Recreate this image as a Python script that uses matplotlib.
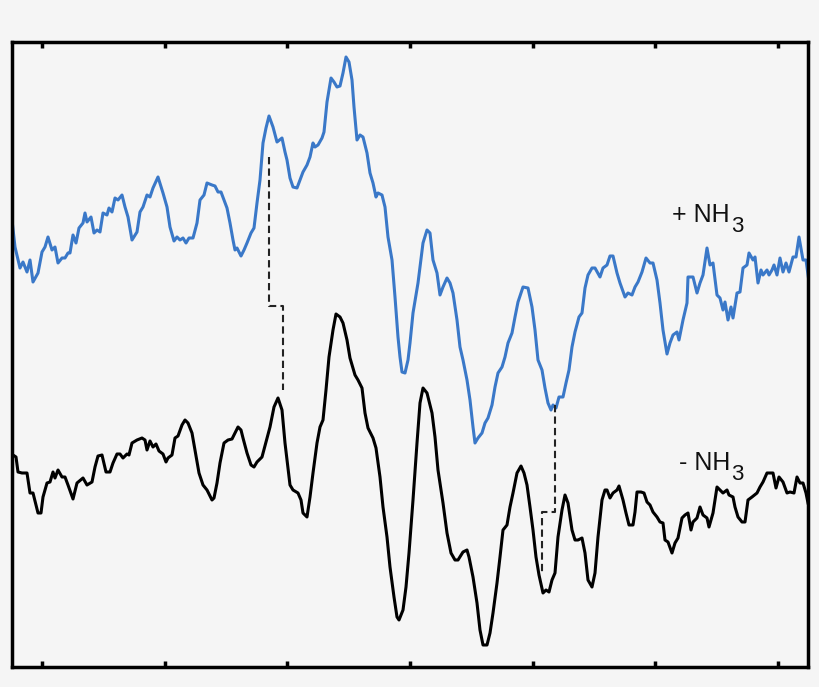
import numpy as np
import matplotlib
matplotlib.use("Agg")
import matplotlib.pyplot as plt

plt.rcParams['font.family'] = ['Liberation Sans', 'DejaVu Sans']

# signal values are read downward (screen-like scale), so the y axis is inverted below
field_plus = [12, 15, 20, 23, 25, 27, 30, 33, 38, 42, 45, 48, 52, 55, 58, 62, 65, 68, 70, 73,
              76, 79, 83, 85, 87, 91, 94, 97, 100, 103, 107, 109, 112, 115, 118, 122, 125, 128, 132, 137,
              140, 143, 147, 150, 153, 158, 163, 167, 170, 174, 177, 180, 183, 186, 189, 193, 197, 200, 204, 207,
              212, 215, 218, 221, 224, 227, 230, 233, 235, 237, 241, 244, 247, 251, 254, 257, 260, 263, 266, 269,
              273, 277, 282, 285, 287, 290, 293, 297, 300, 303, 307, 310, 313, 315, 318, 322, 324, 327, 331, 334,
              337, 340, 343, 346, 349, 352, 354, 357, 360, 363, 367, 370, 373, 376, 378, 382, 385, 388, 392, 395,
              398, 400, 402, 405, 408, 410, 413, 418, 423, 427, 430, 433, 437, 440, 443, 447, 450, 453, 457, 460,
              463, 467, 470, 473, 475, 478, 482, 485, 488, 492, 495, 498, 502, 505, 508, 512, 515, 518, 523, 528,
              532, 535, 538, 542, 545, 548, 551, 553, 556, 559, 563, 566, 569, 572, 575, 579, 582, 585, 588, 592,
              595, 600, 603, 607, 610, 613, 617, 620, 625, 628, 632, 635, 638, 642, 646, 650, 653, 657, 660, 663,
              667, 670, 673, 677, 679, 683, 687, 688, 693, 697, 700, 703, 707, 710, 713, 717, 720, 723, 725, 728,
              731, 733, 737, 740, 743, 747, 749, 753, 755, 758, 761, 763, 767, 769, 772, 774, 777, 780, 783, 786,
              789, 793, 796, 799, 803, 806, 809]
signal_plus = [220, 247, 268, 262, 267, 272, 260, 282, 273, 252, 247, 237, 250, 247, 263, 258, 258, 253, 253, 235,
               243, 228, 223, 213, 222, 217, 233, 230, 232, 213, 215, 208, 212, 198, 200, 195, 207, 217, 240, 232,
               212, 207, 195, 197, 188, 177, 193, 207, 227, 241, 237, 240, 238, 243, 238, 238, 223, 200, 195, 183,
               185, 186, 192, 192, 200, 208, 223, 240, 250, 248, 256, 250, 243, 233, 228, 203, 180, 143, 128, 116,
               127, 142, 138, 152, 160, 178, 187, 188, 180, 172, 165, 157, 143, 147, 145, 138, 132, 102, 78, 82,
               87, 86, 73, 57, 62, 80, 107, 140, 135, 137, 153, 173, 183, 197, 193, 195, 207, 237, 260, 297,
               337, 357, 372, 373, 360, 343, 313, 283, 243, 230, 233, 260, 273, 295, 287, 278, 283, 293, 320, 347,
               360, 380, 400, 427, 443, 438, 433, 423, 418, 405, 387, 373, 367, 357, 343, 333, 317, 302, 287, 288,
               307, 330, 360, 370, 388, 403, 410, 405, 408, 397, 397, 383, 370, 347, 332, 317, 313, 288, 275, 268,
               268, 277, 268, 265, 256, 256, 273, 283, 297, 293, 295, 287, 282, 272, 258, 263, 263, 280, 303, 330,
               354, 343, 335, 332, 340, 320, 303, 277, 277, 293, 283, 275, 248, 265, 263, 295, 298, 310, 302, 320,
               307, 318, 293, 292, 268, 265, 253, 260, 257, 283, 270, 275, 270, 275, 270, 265, 275, 258, 272, 263,
               272, 257, 257, 237, 260, 260, 282]

field_minus = [13, 16, 18, 22, 27, 30, 33, 38, 41, 43, 47, 50, 53, 55, 58, 62, 65, 68, 73, 77,
               83, 87, 92, 95, 98, 102, 106, 110, 113, 117, 120, 123, 127, 129, 132, 137, 142, 145, 147, 150,
               153, 156, 159, 163, 166, 168, 172, 175, 178, 182, 185, 188, 192, 195, 199, 203, 207, 212, 214, 217,
               220, 224, 228, 232, 235, 238, 241, 243, 247, 251, 254, 257, 262, 266, 270, 274, 278, 282, 285, 290,
               293, 298, 301, 303, 307, 310, 313, 317, 320, 323, 326, 329, 333, 336, 340, 343, 347, 350, 355, 358,
               362, 365, 368, 373, 376, 380, 383, 387, 390, 394, 397, 399, 403, 406, 409, 413, 417, 420, 423, 427,
               432, 435, 438, 443, 447, 451, 455, 458, 463, 467, 469, 473, 477, 480, 483, 487, 490, 493, 497, 500,
               503, 507, 510, 513, 517, 521, 524, 527, 530, 533, 536, 539, 543, 546, 549, 552, 555, 558, 562, 565,
               568, 572, 575, 578, 582, 585, 588, 592, 595, 598, 602, 605, 607, 610, 613, 617, 619, 623, 626, 629,
               633, 635, 637, 641, 644, 647, 650, 653, 657, 660, 663, 665, 668, 672, 675, 678, 682, 685, 688, 691,
               693, 697, 700, 703, 707, 709, 713, 717, 720, 723, 727, 729, 733, 735, 738, 742, 745, 748, 752, 757,
               760, 763, 767, 771, 773, 776, 779, 783, 787, 790, 794, 797, 800, 803, 806, 808]
signal_minus = [455, 457, 472, 473, 473, 493, 493, 513, 513, 497, 483, 482, 472, 478, 470, 477, 477, 485, 499, 483,
                478, 485, 482, 467, 456, 455, 472, 472, 463, 454, 454, 458, 454, 455, 443, 440, 438, 440, 450, 441,
                447, 444, 451, 454, 462, 458, 455, 438, 436, 425, 420, 423, 433, 450, 473, 485, 490, 500, 498, 483,
                463, 443, 440, 439, 433, 427, 430, 438, 453, 465, 467, 462, 457, 442, 427, 407, 398, 410, 443, 485,
                490, 493, 500, 513, 517, 497, 473, 443, 427, 420, 390, 357, 330, 314, 317, 323, 340, 358, 375, 380,
                388, 413, 428, 438, 448, 477, 507, 537, 567, 597, 617, 620, 610, 587, 553, 500, 443, 403, 388, 393,
                413, 437, 470, 503, 533, 553, 560, 560, 552, 550, 557, 577, 603, 630, 645, 645, 633, 613, 583, 557,
                530, 525, 507, 493, 473, 466, 473, 485, 507, 530, 557, 575, 593, 590, 592, 580, 573, 537, 510, 495,
                503, 530, 540, 540, 538, 553, 580, 587, 573, 537, 500, 490, 490, 498, 493, 490, 486, 500, 513, 525,
                525, 512, 492, 492, 493, 502, 505, 512, 517, 522, 523, 540, 542, 553, 543, 538, 518, 515, 513, 530,
                522, 518, 507, 515, 518, 527, 513, 487, 490, 493, 490, 495, 497, 507, 517, 522, 522, 500, 497, 493,
                487, 482, 473, 473, 473, 488, 477, 482, 493, 492, 493, 477, 483, 483, 493, 503]

# dashed guides linking matching peaks of the two traces
guide_left_x = [269, 269, 283, 283]
guide_left_y = [157, 306, 306, 390]
guide_right_x = [555, 555, 542, 542]
guide_right_y = [405, 512, 512, 572]

tick_positions = [42, 164.7, 287.3, 410, 532.7, 655.3, 778]

fig = plt.figure(figsize=(8.2, 6.87), dpi=100, facecolor='#f5f5f5')
ax = fig.add_axes([12 / 820, 20 / 687, 796 / 820, 625 / 687])
ax.set_facecolor('#f5f5f5')

ax.plot(field_plus, signal_plus, color='#3a78c8', lw=2.2, solid_joinstyle='round')
ax.plot(field_minus, signal_minus, color='black', lw=2.2, solid_joinstyle='round')
ax.plot(guide_left_x, guide_left_y, color='#222222', lw=1.5, ls=(0, (3.5, 2)))
ax.plot(guide_right_x, guide_right_y, color='#222222', lw=1.5, ls=(0, (3.5, 2)))

# labels: "NH" ends at x=730, the large subscript 3 sits just after it
for label, base in [('+ NH', 222), ('- NH', 470)]:
    ax.text(730, base, label, fontsize=18, ha='right', va='baseline', color='#111111')
    ax.text(731, base + 10, '3', fontsize=16, ha='left', va='baseline', color='#111111')

ax.set_xlim(12, 808)
ax.set_ylim(667, 42)
ax.set_xticks(tick_positions)
ax.set_xticklabels([])
ax.set_yticks([])
ax.tick_params(axis='x', which='both', direction='in', top=True, bottom=True,
               length=4, width=2.5, labelbottom=False)
for s in ax.spines.values():
    s.set_linewidth(2.5)

fig.savefig('out.png', dpi=100, facecolor=fig.get_facecolor())
